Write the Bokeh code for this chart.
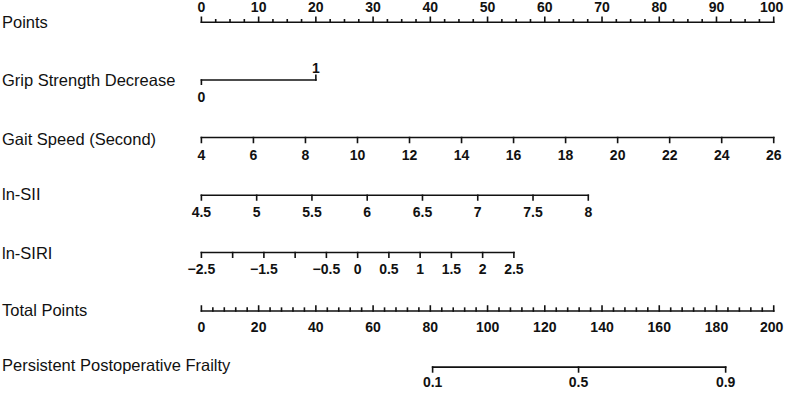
from bokeh.plotting import figure
from bokeh.models import Range1d, ColumnDataSource
from bokeh.embed import file_html
from bokeh.resources import INLINE
from bokeh.core.properties import value

# ---------------- data ----------------
row_labels = ["Points", "Grip Strength Decrease", "Gait Speed (Second)", "ln-SII",
              "ln-SIRI", "Total Points", "Persistent Postoperative Frailty"]

points_major = [0, 10, 20, 30, 40, 50, 60, 70, 80, 90, 100]
points_minor_step = 2.5

grip_values = ["0", "1"]
grip_points = [0, 20]

gait_values = [4, 6, 8, 10, 12, 14, 16, 18, 20, 22, 24, 26]
gait_points_range = [0, 100]          # points at 4 s and at 26 s

sii_values = [4.5, 5, 5.5, 6, 6.5, 7, 7.5, 8]
sii_labels = ["4.5", "5", "5.5", "6", "6.5", "7", "7.5", "8"]
sii_points_range = [0, 67.6]          # points at 4.5 and at 8

siri_values = [-2.5, -2, -1.5, -1, -0.5, 0, 0.5, 1, 1.5, 2, 2.5]
siri_labels = ["\u22122.5", "", "\u22121.5", "", "\u22120.5", "0", "0.5", "1", "1.5", "2", "2.5"]
siri_points_range = [0, 54.6]         # points at -2.5 and at 2.5

total_major = [0, 20, 40, 60, 80, 100, 120, 140, 160, 180, 200]
total_minor_step = 4

frailty_labels = ["0.1", "0.5", "0.9"]
frailty_total_points = [80.8, 131.8, 183.2]

# ---------------- layout ----------------
W, H = 784, 389
REF_W, REF_H = 800, 405
PX_PER_POINT = 5.84          # in reference pixels
X0 = -205 / PX_PER_POINT
X1 = (REF_W - 205) / PX_PER_POINT
p = figure(width=W, height=H, output_backend="svg", toolbar_location=None,
           x_range=Range1d(X0, X1), y_range=Range1d(REF_H, 0),
           x_axis_location=None, y_axis_location=None, min_border=0)
p.grid.visible = False
p.outline_line_color = None
p.background_fill_color = "white"
p.border_fill_color = "white"

FONT = value("Liberation Sans")
INK = "#111111"
LW = 1.6

# rows (reference pixel y): axis line, tick-label centre, variable-label centre
row_line_y = [22.6, 82.7, 142.7, 202.7, 262.3, 323.3, 381.7]
row_tick_label_y = [6.7, None, 160.5, 220.0, 280.0, 339.5, 397.0]
row_label_y = [22.5, 82.3, 144.2, 201.5, 263.3, 322.5, 379.2]

# variable labels
p.text(x=[X0] * len(row_labels), y=row_label_y, text=row_labels, x_offset=1.5,
       text_font=FONT, text_font_size="16.5px", text_color=INK,
       text_baseline="middle", text_align="left")

seg = dict(x0=[], y0=[], x1=[], y1=[])
lab = dict(x=[], y=[], text=[], dx=[])


def add_line(xa, xb, y):
    seg["x0"].append(xa); seg["x1"].append(xb)
    seg["y0"].append(y); seg["y1"].append(y)


def add_tick(x, y, length):
    seg["x0"].append(x); seg["x1"].append(x)
    seg["y0"].append(y); seg["y1"].append(y + length)


def add_label(x, y, t, dx=0):
    lab["x"].append(x); lab["y"].append(y); lab["text"].append(t); lab["dx"].append(dx)


def lin(v, vmin, vmax, rng):
    return rng[0] + (v - vmin) / (vmax - vmin) * (rng[1] - rng[0])


# Points
y = row_line_y[0]
add_line(points_major[0], points_major[-1], y)
n = int((points_major[-1] - points_major[0]) / points_minor_step)
for i in range(n + 1):
    v = points_major[0] + i * points_minor_step
    add_tick(v, y, -5.2 if v in points_major else -2.6)
for k, v in enumerate(points_major):
    add_label(v, row_tick_label_y[0], str(v), -2 if k == len(points_major) - 1 else 0)

# Grip strength decrease (0 -> tick down, label below; 1 -> tick up, label above)
y = row_line_y[1]
add_line(grip_points[0], grip_points[1], y)
add_tick(grip_points[0], y, 4.5)
add_tick(grip_points[1], y, -4.8)
add_label(grip_points[0], 100.5, grip_values[0])
add_label(grip_points[1], 69.8, grip_values[1])

# Gait speed
y = row_line_y[2]
gx = [lin(v, gait_values[0], gait_values[-1], gait_points_range) for v in gait_values]
add_line(gx[0], gx[-1], y)
for xv, v in zip(gx, gait_values):
    add_tick(xv, y, 5.0)
    add_label(xv, row_tick_label_y[2], str(v))

# ln-SII
y = row_line_y[3]
sx = [lin(v, sii_values[0], sii_values[-1], sii_points_range) for v in sii_values]
add_line(sx[0], sx[-1], y)
for xv, t in zip(sx, sii_labels):
    add_tick(xv, y, 5.0)
    add_label(xv, row_tick_label_y[3], t)

# ln-SIRI
y = row_line_y[4]
rx = [lin(v, siri_values[0], siri_values[-1], siri_points_range) for v in siri_values]
add_line(rx[0], rx[-1], y)
for xv, t in zip(rx, siri_labels):
    add_tick(xv, y, 5.0)
    if t:
        add_label(xv, row_tick_label_y[4], t)

# Total points (200 total points span the 100-point scale)
y = row_line_y[5]
scale = points_major[-1] / total_major[-1]
add_line(total_major[0] * scale, total_major[-1] * scale, y)
n = int((total_major[-1] - total_major[0]) / total_minor_step)
for i in range(n + 1):
    v = total_major[0] + i * total_minor_step
    add_tick(v * scale, y, -5.2 if v in total_major else -3.0)
for k, v in enumerate(total_major):
    add_label(v * scale, row_tick_label_y[5], str(v), -2 if k == len(total_major) - 1 else 0)

# Persistent postoperative frailty
y = row_line_y[6]
fx = [t * scale for t in frailty_total_points]
add_line(fx[0], fx[-1], y)
for xv, t in zip(fx, frailty_labels):
    add_tick(xv, y, 5.0)
    add_label(xv, row_tick_label_y[6], t)

p.segment(x0="x0", y0="y0", x1="x1", y1="y1", source=ColumnDataSource(seg),
          line_color=INK, line_width=LW, line_cap="square")
p.text(x="x", y="y", text="text", x_offset="dx", source=ColumnDataSource(lab),
       text_font=FONT, text_font_size="14px", text_font_style="bold",
       text_color=INK, text_baseline="middle", text_align="center")

open("out.html", "w").write(file_html(p, INLINE))
